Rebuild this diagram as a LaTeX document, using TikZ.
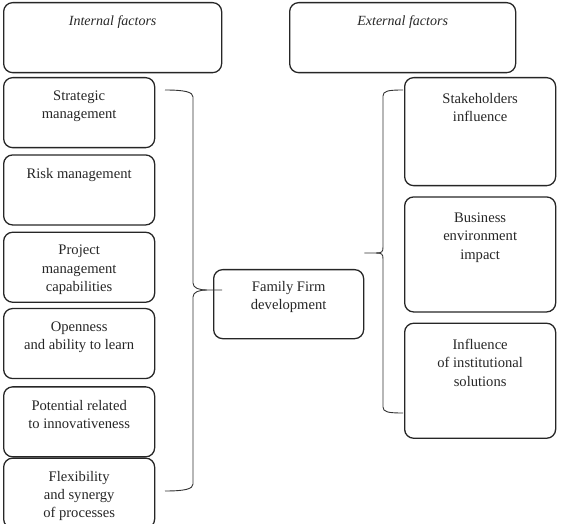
\documentclass[tikz,border=0pt]{standalone}
\usepackage{fontspec}
\setmainfont{Liberation Serif}
\usepackage{tikz}
\usetikzlibrary{positioning}
\tikzstyle{brace}=[line width=0.9pt, color=black!80]

\begin{document}
\begin{tikzpicture}[x=1pt, y=1pt,
  head/.style={rectangle, rounded corners=9pt, draw=black!85, line width=1.3pt,
               minimum width=218pt, minimum height=70pt, anchor=north west},
  factor/.style={rectangle, rounded corners=9pt, draw=black!85, line width=1.3pt,
                 minimum width=151pt, minimum height=70pt},
  lbl/.style={anchor=north, inner sep=0pt, align=center, text=black!85,
              font=\fontsize{14.6}{18.3}\selectfont, yshift=-13.5pt}
]
\useasboundingbox (0,0) rectangle (563,-524);

% Headers
\node[head, label={[lbl, font=\fontsize{14}{18}\selectfont\itshape]north:Internal factors}] (intl) at (3,-2) {};
\node[head, minimum width=226pt,
      label={[lbl, font=\fontsize{14}{18}\selectfont\itshape]north:External factors}] (extl) at (289,-2) {};

% Column 1: Internal factors
\node[factor, anchor=north west, label={[lbl]north:Strategic\\management}] (strat) at (3,-77) {};
\node[factor, below=6pt of strat, label={[lbl]north:Risk management}] (risk) {};
\node[factor, below=6pt of risk, label={[lbl]north:Project\\management\\capabilities}] (proj) {};
\node[factor, below=5pt of proj, label={[lbl]north:Openness\\and ability to learn}] (open) {};
\node[factor, below=7pt of open, label={[lbl]north:Potential related\\to innovativeness}] (innov) {};
\node[factor, below=0pt of innov, label={[lbl]north:Flexibility\\and synergy\\of processes}] (flex) {};

% Column 2: Family firm
\node[factor, anchor=north west, minimum width=150pt, minimum height=69pt,
      label={[lbl, yshift=1.5pt]north:Family Firm\\development}] (firm) at (213,-269) {};

% Column 3: External factors
\node[factor, anchor=north west, minimum height=108pt,
      label={[lbl, yshift=-2.5pt]north:Stakeholders\\influence}] (stake) at (404,-77) {};
\node[factor, below=10pt of stake, minimum height=115pt,
      label={[lbl, yshift=-3pt]north:Business\\environment\\impact}] (env) {};
\node[factor, below=10pt of env, minimum height=115pt,
      label={[lbl, yshift=-3pt]north:Influence\\of institutional\\solutions}] (inst) {};

% Braces
\coordinate (ltop) at (165,-90);
\coordinate (lbot) at (165,-491);
\coordinate (ltip) at ([xshift=9pt]firm.west |- 0,-290);
\coordinate (rtop) at (403,-90);
\coordinate (rbot) at (403,-413);
\coordinate (rtip) at (firm.east |- 0,-253);

\draw[brace] (ltop) .. controls +(20,0) and +(0,5) .. (193,-97) -- (193,-283)
  .. controls +(0,-5) and +(-8,0) .. (207,-290) -- (ltip);
\draw[brace] (lbot) .. controls +(20,0) and +(0,-5) .. (193,-484) -- (193,-297)
  .. controls +(0,5) and +(-8,0) .. (207,-290);
\draw[brace] (rtop) .. controls +(-15,0) and +(0,5) .. (383,-96) -- (383,-247)
  .. controls +(0,-5) and +(6,0) .. (376,-253) -- (rtip);
\draw[brace] (rbot) .. controls +(-15,0) and +(0,-5) .. (383,-407) -- (383,-259)
  .. controls +(0,5) and +(6,0) .. (376,-253);
\end{tikzpicture}
\end{document}
